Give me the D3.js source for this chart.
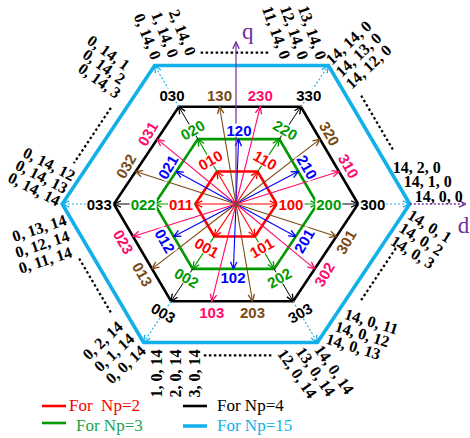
<!DOCTYPE html>
<html>
<head>
<meta charset="utf-8">
<script src="https://cdn.jsdelivr.net/npm/d3@7"></script>
<style>
body { margin: 0; background: #fff; }
</style>
</head>
<body>
<script>
// switching vectors for each level, listed from 0 deg counter-clockwise
var redVectors   = ["100", "110", "010", "011", "001", "101"];
var greenVectors = ["200", "220", "020", "022", "002", "202"];
var blueVectors  = ["210", "120", "021", "012", "102", "201"];
var blackVectors = ["300", "330", "030", "033", "003", "303"];
var pinkVectors  = ["310", "230", "031", "023", "103", "302"];
var brownVectors = ["320", "130", "032", "013", "203", "301"];
var outerVectors = ["14,0,0", "14,14,0", "0,14,0", "0,14,14", "0,0,14", "14,0,14"];

// text around the Np=15 hexagon, first line first
var outerLabels = [
    ["14, 2, 0", "14, 1, 0", "14, 0, 0"],
    ["14, 0, 1", "14, 0, 2", "14, 0, 3"],
    ["14, 14, 0", "14, 13, 0", "14, 12, 0"],
    ["13, 14, 0", "12, 14, 0", "11, 14, 0"],
    ["2, 14, 0", "1, 14, 0", "0, 14, 0"],
    ["0, 14, 1", "0, 14, 2", "0, 14, 3"],
    ["0, 14, 12", "0, 14, 13", "0, 14, 14"],
    ["0, 13, 14", "0, 12, 14", "0, 11, 14"],
    ["0, 2, 14", "0, 1, 14", "0, 0, 14"],
    ["1, 0, 14", "2, 0, 14", "3, 0, 14"],
    ["14, 0, 14", "13, 0, 14", "12, 0, 14"],
    ["14, 0, 11", "14, 0, 12", "14, 0, 13"]
];

var legendLabels = ["For  Np=2", "For Np=3", "For Np=4", "For Np=15"];
var legendNp = [2, 3, 4, 15];

var colors = {
    red: "#ff0000", green: "#009900", blue: "#0000ff", black: "#000000",
    pink: "#ff0a6c", brown: "#7a4a14", sky: "#12b0ea", purple: "#7030a0"
};

var width = 470, height = 438;
var cx = 236, cy = 204, unit = 40.7, squash = 0.92, shear = -0.04;
var outerLevel = 4.27; // Np=15 ring is drawn closer than its real size

var x = d3.scaleLinear().domain([0, 1]).range([cx, cx + unit]);
var y = d3.scaleLinear().domain([0, 1]).range([cy, cy - unit * squash]);

function toComplex(v) {
    var d = (v.indexOf(",") >= 0 ? v.split(",") : v.split("")).map(Number);
    var k = d[0] > 3 || d[1] > 3 || d[2] > 3 ? outerLevel / 14 : 1;
    return [k * (d[0] - (d[1] + d[2]) / 2), k * (d[1] - d[2]) * Math.sqrt(3) / 2];
}
function place(c) {
    var py = y(c[1]);
    return [x(c[0]) + shear * (py - cy), py];
}
function pos(v, f) {
    var c = toComplex(v);
    f = f || 1;
    return place([c[0] * f, c[1] * f]);
}
function angleOf(v) {
    var c = toComplex(v);
    var a = Math.round(Math.atan2(c[1], c[0]) * 180 / Math.PI);
    return (a + 360) % 360;
}
function tangentRot(a) {
    var r = 90 - a;
    while (r > 90) r -= 180;
    while (r <= -90) r += 180;
    return r;
}

var svg = d3.select("body").append("svg")
    .attr("width", width)
    .attr("height", height);

var defs = svg.append("defs");
Object.keys(colors).forEach(function(k) {
    defs.append("marker")
        .attr("id", "arr-" + k)
        .attr("markerUnits", "userSpaceOnUse")
        .attr("viewBox", "0 0 8 8")
        .attr("refX", 7.5).attr("refY", 4)
        .attr("markerWidth", 8).attr("markerHeight", 8)
        .attr("orient", "auto")
        .append("path")
        .attr("d", "M0.5,0.8 L7.5,4 L0.5,7.2")
        .attr("fill", "none")
        .attr("stroke", colors[k])
        .attr("stroke-width", 1.3);
});

var line = d3.line();

function arrow(layer, p0, p1, color, dash, w) {
    layer.append("path")
        .attr("d", line([p0, p1]))
        .attr("stroke", colors[color])
        .attr("stroke-width", w || 1.1)
        .attr("stroke-dasharray", dash || null)
        .attr("fill", "none")
        .attr("marker-end", "url(#arr-" + color + ")");
}

// hexagons
var rings = [
    {vecs: redVectors, color: "red", w: 2.6},
    {vecs: greenVectors, color: "green", w: 2.6},
    {vecs: blackVectors, color: "black", w: 2.6},
    {vecs: outerVectors, color: "sky", w: 3.6}
];
var hexLayer = svg.append("g");
rings.forEach(function(r) {
    hexLayer.append("path")
        .attr("d", line(r.vecs.map(function(v) { return pos(v); })) + "Z")
        .attr("fill", "none")
        .attr("stroke", colors[r.color])
        .attr("stroke-width", r.w)
        .attr("stroke-linejoin", "miter");
});

// dotted segments just outside each edge of the Np=15 hexagon
var outerPts = outerVectors.map(function(v) { return pos(v); });
outerPts.forEach(function(p, i) {
    var q = outerPts[(i + 1) % 6];
    var mx = (p[0] + q[0]) / 2 - cx, my = (p[1] + q[1]) / 2 - cy;
    var len = Math.sqrt(mx * mx + my * my);
    var ox = mx / len * 13, oy = my / len * 13;
    var a = [p[0] + (q[0] - p[0]) * 0.35 + ox, p[1] + (q[1] - p[1]) * 0.35 + oy];
    var b = [p[0] + (q[0] - p[0]) * 0.75 + ox, p[1] + (q[1] - p[1]) * 0.75 + oy];
    svg.append("path")
        .attr("d", line([a, b]))
        .attr("stroke", "#000")
        .attr("stroke-width", 2.2)
        .attr("stroke-dasharray", "2.5,2.5");
});

// arrows
var arrowLayer = svg.append("g");
var origin = place([0, 0]);
redVectors.forEach(function(v) { arrow(arrowLayer, origin, pos(v), "red"); });
blueVectors.forEach(function(v) { arrow(arrowLayer, origin, pos(v), "blue"); });
pinkVectors.forEach(function(v) { arrow(arrowLayer, origin, pos(v), "pink"); });
brownVectors.forEach(function(v) { arrow(arrowLayer, origin, pos(v), "brown"); });
greenVectors.forEach(function(v, i) { arrow(arrowLayer, pos(redVectors[i]), pos(v), "green"); });
blackVectors.forEach(function(v, i) { arrow(arrowLayer, pos(greenVectors[i]), pos(v), "black", null, 1); });
outerVectors.forEach(function(v, i) { arrow(arrowLayer, pos(blackVectors[i]), pos(v), "sky", "2,2", 1.1); });

// q and d axes
arrow(svg, origin, [x(0), y(4.33)], "purple", null, 1.2);
arrow(svg, pos(outerVectors[0]), [x(5.65), y(0)], "purple", "2,2", 1.3);
svg.append("text")
    .attr("x", x(0) + 6).attr("y", y(4.33) - 3)
    .attr("font-family", "Liberation Serif, serif")
    .attr("font-size", 23)
    .attr("fill", colors.purple)
    .text("q");
svg.append("text")
    .attr("x", x(5.45)).attr("y", y(0) + 29)
    .attr("font-family", "Liberation Serif, serif")
    .attr("font-size", 23)
    .attr("fill", colors.purple)
    .text("d");

// vector labels
var labelLayer = svg.append("g");
function label(p, rot, txt, color) {
    var g = labelLayer.append("g")
        .attr("transform", "translate(" + p[0] + "," + p[1] + ") rotate(" + rot + ")");
    var t = g.append("text")
        .attr("text-anchor", "middle")
        .attr("dominant-baseline", "central")
        .attr("font-family", "Liberation Sans, Arial, sans-serif")
        .attr("font-weight", "bold")
        .attr("font-size", 15)
        .attr("fill", colors[color])
        .text(txt);
    var bb = t.node().getBBox();
    g.insert("rect", "text")
        .attr("x", bb.x - 1).attr("y", bb.y + 2)
        .attr("width", bb.width + 2).attr("height", bb.height - 4)
        .attr("fill", "#fff");
}
function vertexRot(a) { return a % 180 === 0 ? 0 : tangentRot(a); }

redVectors.forEach(function(v) { label(pos(v, 1.35), vertexRot(angleOf(v)), v, "red"); });
greenVectors.forEach(function(v) { label(pos(v, 1.14), vertexRot(angleOf(v)), v, "green"); });
blueVectors.forEach(function(v) { label(pos(v, 1.14), tangentRot(angleOf(v)), v, "blue"); });
blackVectors.forEach(function(v) {
    var a = angleOf(v);
    label(pos(v, 1.12), (a === 60 || a === 120) ? 0 : vertexRot(a), v, "black");
});
function edgeLabel(v, color) {
    var a = angleOf(v);
    var n = Math.floor(a / 60) * 60 + 30;
    var p = pos(v);
    var r = n * Math.PI / 180;
    label([p[0] + 11 * Math.cos(r), p[1] - 11 * Math.sin(r)], tangentRot(n), v, color);
}
pinkVectors.forEach(function(v) { edgeLabel(v, "pink"); });
brownVectors.forEach(function(v) { edgeLabel(v, "brown"); });

// outer label groups: vertex index, rotation, first line offset, step per line
var outerPlace = [
    [0, 0, 7, -37, 11, 14.5],
    [0, 32, 20, 22, -8.5, 13],
    [1, -43, 20, -23, 10, 12],
    [1, 70, -16, -33, -18, 0],
    [2, 68, 28, -33, -17.5, 2],
    [2, 36, -46, -13, -4.5, 14],
    [3, 27, -13, -40, -7.5, 12.5],
    [3, -18, -23, 24, 3, 16],
    [4, -43, -41, -2, 11.5, 12],
    [4, -90, 13, 31, 19, 0],
    [5, 55, 17, 27, -18.5, 2],
    [5, 17, 54, -21, -9, 12.5]
];
var outerLayer = svg.append("g")
    .attr("font-family", "Liberation Serif, Times New Roman, serif")
    .attr("font-weight", "bold")
    .attr("font-size", 16)
    .attr("fill", "#000");
outerLabels.forEach(function(lines, gi) {
    var pl = outerPlace[gi];
    var vp = outerPts[pl[0]];
    lines.forEach(function(txt, li) {
        var px = vp[0] + pl[2] + pl[4] * li, py = vp[1] + pl[3] + pl[5] * li;
        outerLayer.append("text")
            .attr("transform", "translate(" + px + "," + py + ") rotate(" + pl[1] + ")")
            .attr("text-anchor", "middle")
            .attr("dominant-baseline", "central")
            .text(txt);
    });
});

// legend
var legendColor = {2: "red", 3: "green", 4: "black", 15: "sky"};
var legendText = {2: "#ff0000", 3: "#1aa64a", 4: "#000000", 15: "#12b0ea"};
var legend = svg.append("g");
legendNp.forEach(function(np, i) {
    var col = i < 2 ? 0 : 1, row = i % 2;
    var lx = col ? 183 : 42, ly = row ? (col ? 426 : 423) : 406;
    legend.append("line")
        .attr("x1", lx).attr("x2", lx + 24)
        .attr("y1", ly).attr("y2", ly)
        .attr("stroke", colors[legendColor[np]])
        .attr("stroke-width", np === 15 ? 3.5 : 2.6);
    legend.append("text")
        .attr("x", col ? 217 : (row ? 76 : 69))
        .attr("y", row ? 431 : 411)
        .attr("font-family", "Liberation Serif, Times New Roman, serif")
        .attr("font-size", 17)
        .attr("fill", legendText[np])
        .style("white-space", "pre")
        .text(legendLabels[i]);
});
</script>
</body>
</html>
